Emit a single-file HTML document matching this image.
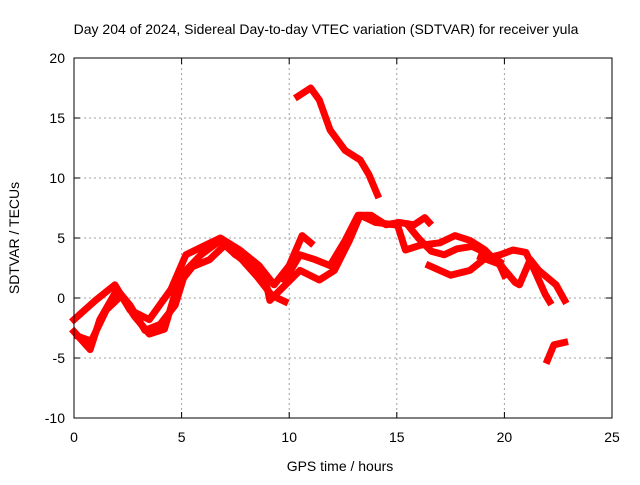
<!DOCTYPE html>
<html><head><meta charset="utf-8"><style>
body{margin:0;background:#fff}
svg text{font-family:"Liberation Sans",sans-serif;font-size:14px;fill:#000}
</style></head><body>
<svg width="640" height="480" xmlns="http://www.w3.org/2000/svg">
<rect width="640" height="480" fill="#fff"/>
<text x="326" y="34" text-anchor="middle">Day 204 of 2024, Sidereal Day-to-day VTEC variation (SDTVAR) for receiver yula</text>
<g id="grid"></g><g id="series"></g><g id="axes"></g>
<text x="340" y="471" text-anchor="middle">GPS time / hours</text>
<text transform="translate(19,238) rotate(-90)" text-anchor="middle">SDTVAR / TECUs</text>
</svg>
<script>
const xTicks=[0,5,10,15,20,25];
const yTicks=[-10,-5,0,5,10,15,20];
const s1x=[0,0.75,1.2,2,2.6,3.3,4,4.7,5.2,5.9,6.8,7.5,8.4,8.9,9.1,9.6,10.5,11.4,12.1,12.8,13.3,14,14.9];
const s1y=[-2.8,-4.3,-1.8,0.7,-0.6,-2.7,-2.2,-0.6,2.3,3.6,4.8,3.6,2.7,1.5,-0.2,0.7,2.3,1.5,2.3,4.8,6.9,6.3,6.1];
const s2x=[0,1,1.9,2.6,3.5,4.5,5.2,6.1,6.8,7.7,8.6,9.3,10,10.6,11];
const s2y=[-1.8,-0.2,1.1,-1,-1.8,0.7,3.6,4.4,5,4,2.7,1.1,2.7,5.2,4.6];
const s9x=[0.2,0.8,1.5,2.2,2.8,3.5,4.2,4.8,5.5,6.3,7,7.8,8.5,9.2,9.8];
const s9y=[-3.2,-3.6,-1,0.2,-1.5,-3,-2.6,1,2.6,3.2,4.4,3.2,1.8,0.2,-0.3];
const s3x=[9.8,10.5,11.2,11.9,12.6,13.2,13.8,14.5,15.1,15.8,16.3,16.5];
const s3y=[1.5,3.6,3.2,2.7,4.8,6.9,6.9,6.1,6.3,6.1,6.7,6.3];
const s4x=[15.1,15.4,16.1,17,17.7,18.4,19.1,19.8,20];
const s4y=[5.7,4,4.4,4.6,5.2,4.8,4,2.7,1.9];
const s10x=[15.5,16,16.6,17.2,17.8,18.5,19.2,19.8];
const s10y=[6.1,5,3.9,3.6,4.1,4.3,3.7,3];
const s5x=[16.5,17.5,18.4,19.1,19.8,20.4,21,21.4,21.9,22.1];
const s5y=[2.7,1.9,2.3,3.3,3.6,4,3.8,2.3,0.3,-0.3];
const s6x=[18.9,19.8,20.5,20.7,21.2,21.6,22.4,22.8];
const s6y=[3.4,2.8,1.3,1.1,3.2,2.3,1.1,-0.2];
const s7x=[22,22.3,22.8];
const s7y=[-5.2,-3.9,-3.7];
const s8x=[10.4,11,11.4,11.9,12.6,13.3,13.7,14.1];
const s8y=[16.8,17.5,16.5,14,12.3,11.5,10.3,8.6];
const L=74,R=612,T=58,B=418;
const X=v=>L+(v-0)/25*(R-L);
const Y=v=>B-(v+10)/30*(B-T);
const NS="http://www.w3.org/2000/svg";
function mk(tag,attrs,parent){const e=document.createElementNS(NS,tag);for(const k in attrs)e.setAttribute(k,attrs[k]);parent.appendChild(e);return e;}
const grid=document.getElementById('grid'),axes=document.getElementById('axes'),ser=document.getElementById('series');
xTicks.forEach(t=>{
 if(t>0&&t<25){const g=mk('line',{x1:X(t),x2:X(t),y1:T,y2:B,stroke:'#a0a0a0','stroke-dasharray':'2,3'},grid);
 
 }
 const tk=mk('path',{d:`M${X(t)},${B}v-6M${X(t)},${T}v6`,stroke:'#000'},axes);
 
 
 const tx=mk('text',{x:X(t),y:B+24,'text-anchor':'middle'},axes);tx.textContent=t;
 
 
});
yTicks.forEach(t=>{
 if(t>-10&&t<20){const g=mk('line',{x1:L,x2:R,y1:Y(t),y2:Y(t),stroke:'#a0a0a0','stroke-dasharray':'2,3'},grid);
 
 }
 const tk=mk('path',{d:`M${L},${Y(t)}h6M${R},${Y(t)}h-6`,stroke:'#000'},axes);
 
 
 const tx=mk('text',{x:L-9,y:Y(t)+5,'text-anchor':'end'},axes);tx.textContent=t;
 
 
});
const frame=mk('rect',{x:L,y:T,width:R-L,height:B-T,fill:'none',stroke:'#000'},axes);


[[s1x,s1y],[s2x,s2y],[s9x,s9y],[s3x,s3y],[s4x,s4y],[s10x,s10y],[s5x,s5y],[s6x,s6y],[s7x,s7y],[s8x,s8y]].forEach((s,i)=>{
 const pts=s[0].map((v,j)=>X(v)+','+Y(s[1][j])).join(' ');
 const p=mk('polyline',{points:pts,fill:'none',stroke:'#f00','stroke-width':7,'stroke-linejoin':'round','stroke-linecap':'square'},ser);
 
 
});
</script>
</body></html>
